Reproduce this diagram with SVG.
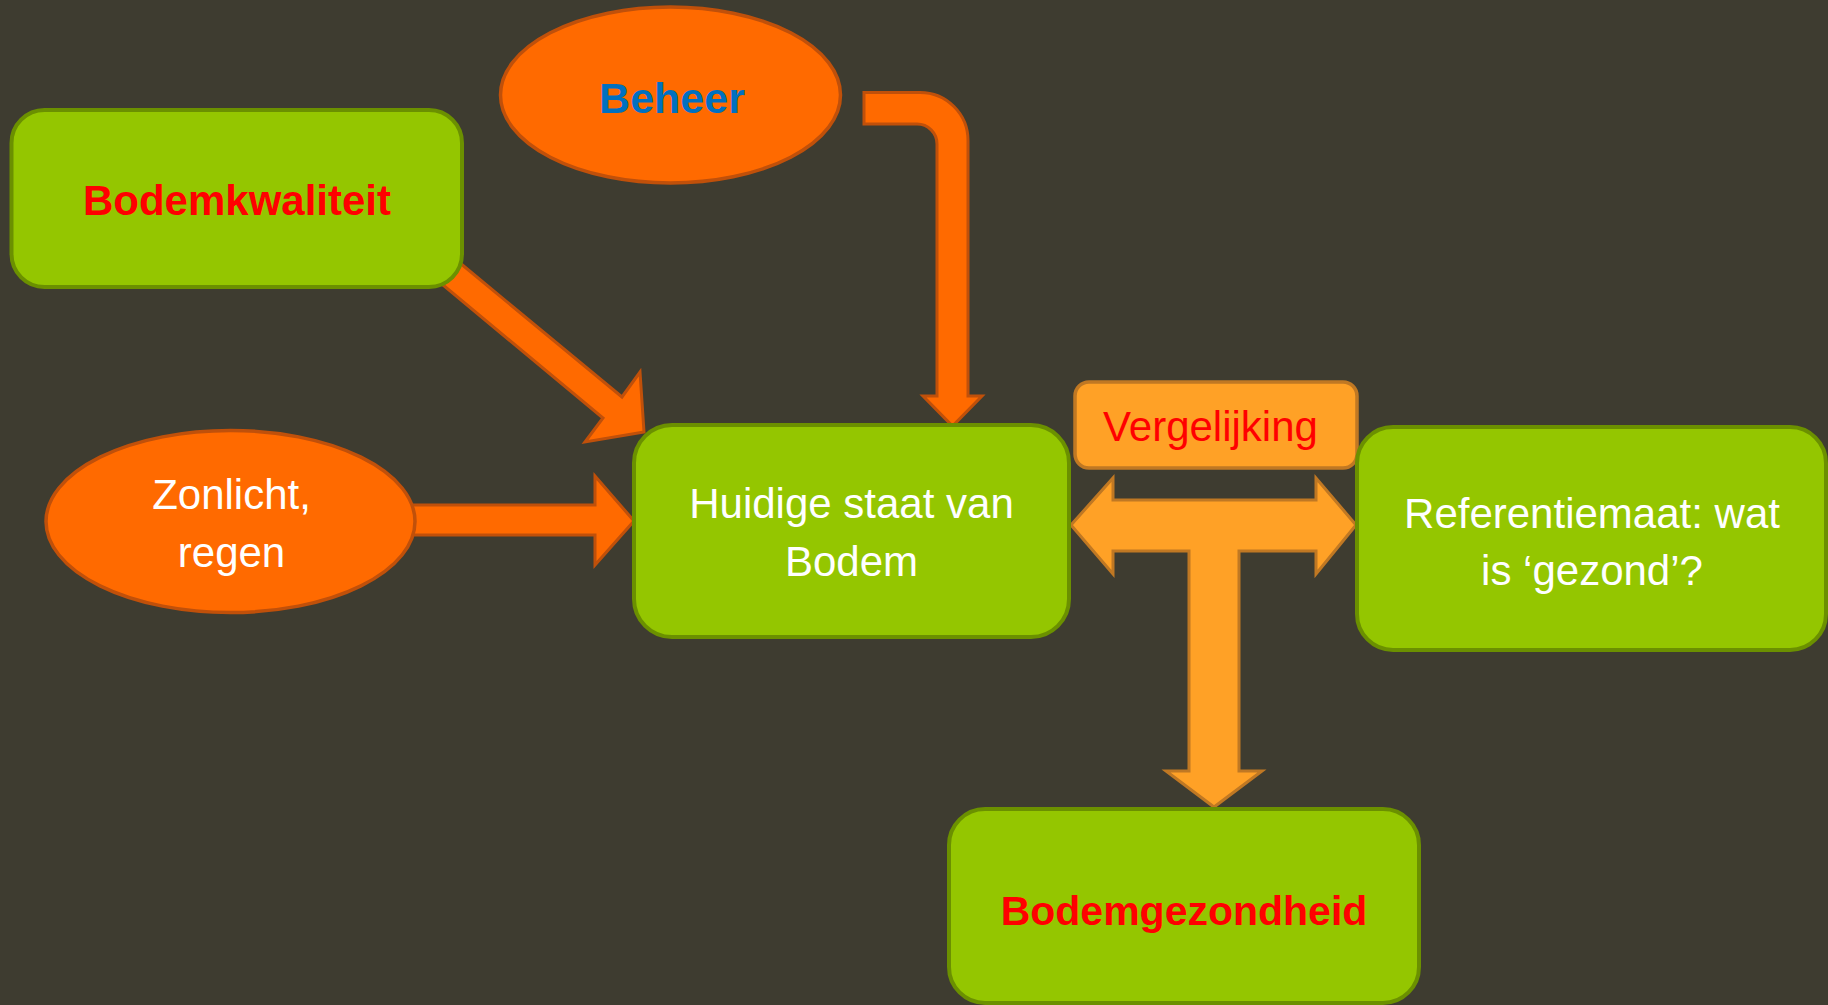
<svg xmlns="http://www.w3.org/2000/svg" width="1828" height="1005" viewBox="0 0 1828 1005">
<style>
.bg{fill:#3e3c30}
.green{fill:#94c600;stroke:#6b9000;stroke-width:4}
.orange{fill:#ff6a00;stroke:#c0500a;stroke-width:3.5}
.light{fill:#ffa126;stroke:#c07823;stroke-width:3.5}
.arr{fill:#ff6a00;stroke:#c0500a;stroke-width:3;stroke-linejoin:miter}
.arr2{fill:#ffa126;stroke:#c07823;stroke-width:3;stroke-linejoin:miter}
text{font-family:"Liberation Sans",Arial,sans-serif;text-anchor:middle}
.w{fill:#ffffff;font-size:42px}
.rb{fill:#ff0000;font-weight:bold}
.r{fill:#ff0000;font-size:42px}
.bb{fill:#0070c0;font-weight:bold;font-size:43px}
</style>
<rect class="bg" x="0" y="0" width="1828" height="1005"/>
<g id="connectors">
  <path class="arr" d="M864,92.5 H920 A48,48 0 0 1 968,140.5 V396 H982 L952.5,426 L923,396 H937 V144 A20,20 0 0 0 917,124 H864 Z"/>
  <polygon class="arr" points="460,263 622,397 640,372 644,432 585,442 603,418 443,285"/>
  <polygon class="arr" points="410,505 595,505 595,476 634,521 595,565 595,535 410,535"/>
  <polygon class="arr2" points="1071,525 1113,478 1113,500 1316,500 1316,478 1356,525 1316,574 1316,551 1239,551 1239,771 1262,771 1214,807 1166,771 1189,771 1189,551 1113,551 1113,574"/>
</g>
<g id="beheer">
  <ellipse class="orange" cx="670.5" cy="95" rx="170" ry="88"/>
  <text class="bb" x="672" y="113">Beheer</text>
</g>
<g id="bodemkwaliteit">
  <rect class="green" x="11.5" y="110" width="450.5" height="177" rx="33" ry="33"/>
  <text class="rb" x="237" y="215" font-size="42">Bodemkwaliteit</text>
</g>
<g id="zonlicht">
  <ellipse class="orange" cx="230.5" cy="521.5" rx="184.5" ry="91"/>
  <text class="w" x="231.5" y="509">Zonlicht,</text>
  <text class="w" x="231.5" y="567">regen</text>
</g>
<g id="huidige">
  <rect class="green" x="634" y="425" width="435" height="212" rx="38" ry="38"/>
  <text class="w" x="851.5" y="518">Huidige staat van</text>
  <text class="w" x="851.5" y="576">Bodem</text>
</g>
<g id="vergelijking">
  <rect class="light" x="1075" y="382" width="282" height="86" rx="14" ry="14"/>
  <text class="r" x="1210.5" y="441">Vergelijking</text>
</g>
<g id="referentiemaat">
  <rect class="green" x="1357" y="427" width="469" height="223" rx="36" ry="36"/>
  <text class="w" x="1592" y="528">Referentiemaat: wat</text>
  <text class="w" x="1592" y="585">is ‘gezond’?</text>
</g>
<g id="bodemgezondheid">
  <rect class="green" x="949" y="809" width="470" height="194" rx="36" ry="36"/>
  <text class="rb" x="1184" y="925" font-size="41">Bodemgezondheid</text>
</g>
</svg>
